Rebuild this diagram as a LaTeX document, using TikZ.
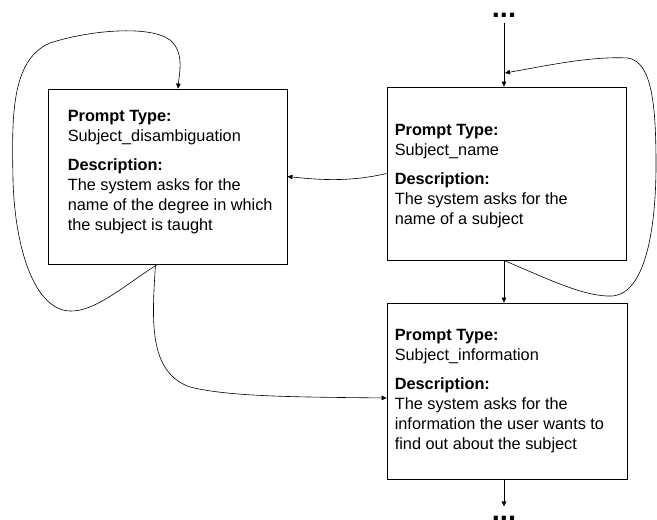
\documentclass[tikz,border=0pt]{standalone}
\usepackage{fontspec}
\setsansfont{Liberation Sans}
\usetikzlibrary{arrows.meta,positioning}

\begin{document}
\begin{tikzpicture}[x=1pt, y=-1pt, >={Triangle[length=5pt,width=4.5pt]},
  every node/.style={font=\sffamily},
  box/.style={draw, line width=0.8pt, minimum width=239pt, minimum height=175pt, inner sep=0pt},
  desc/.style={anchor=north west, align=left, inner sep=0pt, font=\sffamily\fontsize{16.3}{20}\selectfont},
  dots/.style={anchor=base, inner sep=0pt, font=\sffamily\bfseries\fontsize{29}{29}\selectfont},
  link/.style={->, line width=0.6pt}]
\useasboundingbox (0,0) rectangle (657,520);
% Nodes
\node[box] (disamb) at (167.5,176.5) {};
\node[box, minimum height=173pt] (subjname) at (506.5,173.5) {};
\node[box, minimum width=240pt, minimum height=176pt] (subjinfo) at (507,391) {};
\node[desc] (disambtext) at ([shift={(20,21)}]disamb.north west) {\textbf{Prompt Type:}\\Subject\_disambiguation\\[9pt]\textbf{Description:}\\The system asks for the\\name of the degree in which\\the subject is taught};
\node[desc] (nametext) at ([shift={(8,37)}]subjname.north west) {\textbf{Prompt Type:}\\Subject\_name\\[9pt]\textbf{Description:}\\The system asks for the\\name of a subject};
\node[desc] (infotext) at ([shift={(8,26)}]subjinfo.north west) {\textbf{Prompt Type:}\\Subject\_information\\[9pt]\textbf{Description:}\\The system asks for the\\information the user wants to\\find out about the subject};
\node[dots] (topdots) at (504,17.5) {...};
\node[dots] (botdots) at (504,520) {...};
\coordinate (loopin) at (505,73);
% Arrows
\draw[link] ([yshift=-5.5pt]topdots.south) -- (topdots |- subjname.north);
\draw[link] (topdots |- subjname.south) -- (topdots |- subjinfo.north);
\draw[link] (topdots |- subjinfo.south) -- ([yshift=9pt]botdots.north);
\draw[link] (subjname.west) .. controls (350,182) and (320,180) .. (disamb.east);
% loop on the right, back to the top
\draw[link] (topdots |- subjname.south) .. controls (550,280) and (585,297) .. (612,296)
  .. controls (645,294) and (656,230) .. (656,165)
  .. controls (656,105) and (652,62) .. (628,58)
  .. controls (590,56) and (545,66) .. (loopin);
% loop on the left
\draw[link] ([xshift=-10pt]disamb.south) .. controls (125,285) and (95,312) .. (70,311)
  .. controls (35,310) and (15,250) .. (13,180)
  .. controls (12,120) and (10,60) .. (50,43)
  .. controls (90,30) and (150,25) .. (170,40)
  .. controls (185,52) and (179,75) .. ([xshift=10.5pt]disamb.north);
\draw[link] ([xshift=-12pt]disamb.south) .. controls (152,320) and (148,372) .. (190,387)
  .. controls (230,397) and (300,397) .. ([yshift=-7pt]subjinfo.west);
\end{tikzpicture}
\end{document}
